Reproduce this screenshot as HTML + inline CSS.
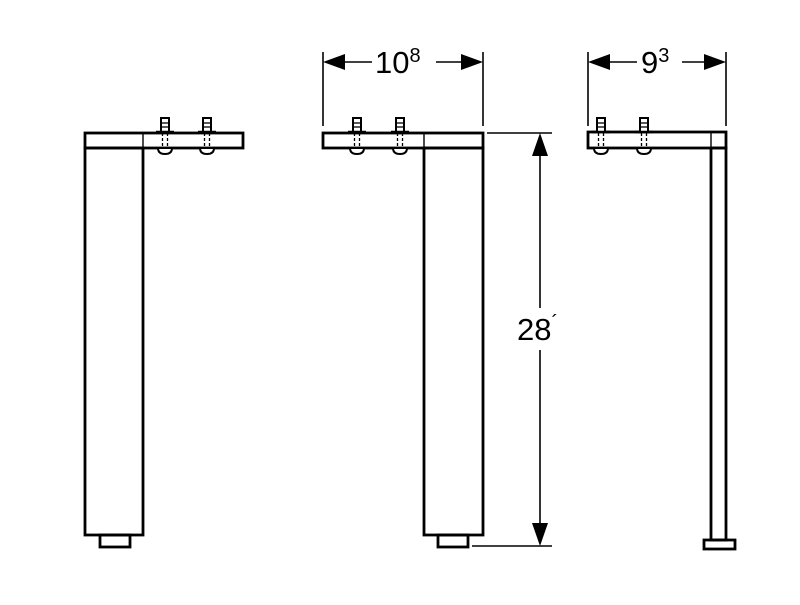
<!DOCTYPE html>
<html><head><style>body{margin:0;background:#fff}</style></head><body>
<svg width="800" height="600" viewBox="0 0 800 600" xmlns="http://www.w3.org/2000/svg" font-family="Liberation Sans, sans-serif">
<defs>
<g id="bolt">
<rect x="-4" y="118" width="8" height="14" fill="#fff" stroke="#000" stroke-width="2"/>
<line x1="-4" y1="123" x2="4" y2="123" stroke="#000" stroke-width="1.3"/>
<line x1="-4" y1="127" x2="4" y2="127" stroke="#000" stroke-width="1.3"/>
<line x1="-9" y1="132" x2="9" y2="132" stroke="#000" stroke-width="2.5"/>
<line x1="-2.5" y1="133" x2="-2.5" y2="148" stroke="#000" stroke-width="1.3" stroke-dasharray="3,2"/>
<line x1="2.5" y1="133" x2="2.5" y2="148" stroke="#000" stroke-width="1.3" stroke-dasharray="3,2"/>
<path d="M-7,148 Q-7,154 0,154 Q7,154 7,148 Z" fill="#fff" stroke="#000" stroke-width="2"/>
</g>
</defs>
<g fill="none" stroke="#000" stroke-width="2.8">
<rect x="85" y="133" width="158" height="15"/>
<rect x="85" y="148" width="58" height="387"/>
<line x1="143" y1="133" x2="143" y2="148" stroke-width="1.4"/>
<rect x="100" y="535" width="30" height="12"/>
<rect x="323" y="133" width="160" height="15"/>
<rect x="424" y="148" width="59" height="387"/>
<line x1="424" y1="133" x2="424" y2="148" stroke-width="1.4"/>
<rect x="438" y="535" width="30" height="12"/>
<rect x="588" y="132" width="138" height="16"/>
<rect x="711" y="148" width="15" height="392"/>
<line x1="711" y1="132" x2="711" y2="148" stroke-width="1.4"/>
<rect x="704" y="540" width="31" height="9"/>
</g>
<use href="#bolt" x="165"/><use href="#bolt" x="207"/>
<use href="#bolt" x="357"/><use href="#bolt" x="400"/>
<use href="#bolt" x="601"/><use href="#bolt" x="644"/>
<g stroke="#000" stroke-width="1.6" fill="none">
<line x1="323" y1="52" x2="323" y2="126"/><line x1="483" y1="52" x2="483" y2="126"/>
<line x1="588" y1="52" x2="588" y2="126"/><line x1="726" y1="52" x2="726" y2="126"/>
<line x1="330" y1="62" x2="372" y2="62"/><line x1="436" y1="62" x2="476" y2="62"/>
<line x1="595" y1="62" x2="637" y2="62"/><line x1="682" y1="62" x2="720" y2="62"/>
<line x1="487" y1="133" x2="552" y2="133"/><line x1="472" y1="546" x2="552" y2="546"/>
<line x1="540" y1="140" x2="540" y2="308"/><line x1="540" y1="350" x2="540" y2="540"/>
</g>
<g fill="#000">
<polygon points="323,62 345,54 345,70"/><polygon points="483,62 461,54 461,70"/>
<polygon points="588,62 610,54 610,70"/><polygon points="726,62 704,54 704,70"/>
<polygon points="540,133 532,156 548,156"/><polygon points="540,546 532,523 548,523"/>
</g>
<text x="375" y="73" font-size="31">10<tspan font-size="20" dy="-11">8</tspan></text>
<text x="641" y="73" font-size="31">9<tspan font-size="20" dy="-11">3</tspan></text>
<text x="517" y="340" font-size="31">28<tspan font-size="20" dy="-11">´</tspan></text>
</svg>
</body></html>
